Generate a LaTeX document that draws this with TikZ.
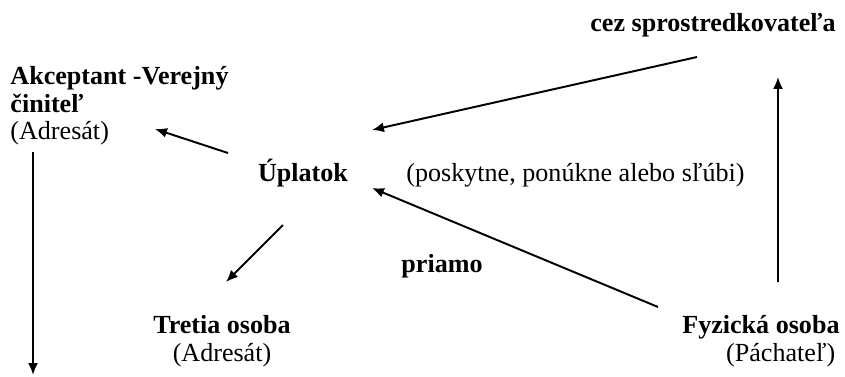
\documentclass[tikz,border=0pt]{standalone}
\usepackage{fontspec}
\setmainfont{Liberation Serif}
\usetikzlibrary{arrows.meta}

\begin{document}
\begin{tikzpicture}[x=0.46pt,y=-0.46pt,
  txt/.style={inner sep=0pt,font=\fontsize{12}{12.65}\selectfont},
  arr/.style={line width=0.9pt,-{Latex[length=5.5pt,width=4.6pt]}}]
\useasboundingbox (0,0) rectangle (845,376);
\node (cez)  at (713,31)  [txt,anchor=base] {\textbf{cez sprostredkovateľa}};
\node (akc)  at (10,66)   [txt,anchor=north west,align=left] {\textbf{Akceptant -Verejný}\\\textbf{činiteľ}\\(Adresát)};
\node (upl)  at (303,181) [txt,anchor=base] {\textbf{Úplatok}};
\node (spos) at (406,181) [txt,anchor=base west] {(poskytne, ponúkne alebo sľúbi)};
\node (pria) at (442,272) [txt,anchor=base] {\textbf{priamo}};
\node (tret) at (222,315) [txt,anchor=north,align=center] {\textbf{Tretia osoba}\\(Adresát)};
\node (fyz)  at (840,315) [txt,anchor=north east,align=right] {\textbf{Fyzická osoba}\\(Páchateľ)\hspace*{2pt}};
% free ends of the arrows
\coordinate (cez-out) at (697,57);
\coordinate (upl-in1) at (372,130);
\coordinate (upl-in2) at (372,188);
\coordinate (upl-out1) at (228,153);
\coordinate (upl-out2) at (283,225);
\coordinate (akc-in)  at (155,129);
\coordinate (akc-out) at (33,152);
\coordinate (akc-end) at (33,375);
\coordinate (tret-in) at (226,282);
\coordinate (fyz-out1) at (658,307);
\coordinate (fyz-out2) at (778,282);
\coordinate (cez-in)  at (778,77);
\draw [arr] (cez-out) -- (upl-in1);
\draw [arr] (fyz-out2) -- (cez-in);
\draw [arr] (fyz-out1) -- (upl-in2);
\draw [arr] (upl-out1) -- (akc-in);
\draw [arr] (upl-out2) -- (tret-in);
\draw [arr] (akc-out) -- (akc-end);
\end{tikzpicture}
\end{document}
